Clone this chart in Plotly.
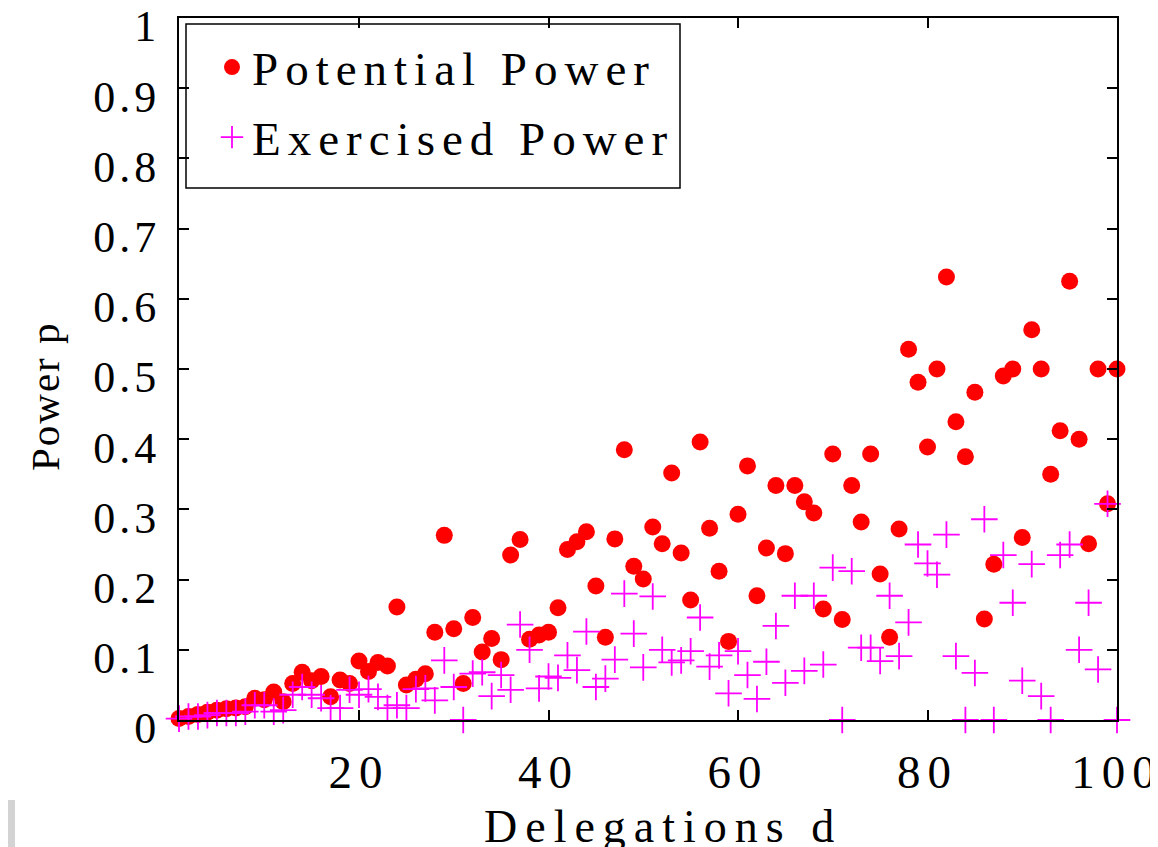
import plotly.graph_objects as go

delegations = list(range(1, 101))

potential_power = [
    0.002, 0.005, 0.008, 0.011, 0.014, 0.016, 0.017, 0.019, 0.031, 0.029,
    0.040, 0.026, 0.052, 0.068, 0.056, 0.062, 0.033, 0.057, 0.052, 0.084,
    0.069, 0.082, 0.077, 0.161, 0.050, 0.058, 0.066, 0.125, 0.263, 0.130,
    0.052, 0.146, 0.097, 0.116, 0.086, 0.235, 0.257, 0.115, 0.121, 0.125,
    0.160, 0.243, 0.254, 0.268, 0.191, 0.118, 0.258, 0.385, 0.219, 0.201,
    0.275, 0.251, 0.352, 0.238, 0.171, 0.396, 0.273, 0.212, 0.112, 0.293,
    0.362, 0.177, 0.245, 0.334, 0.237, 0.334, 0.311, 0.295, 0.158, 0.379,
    0.143, 0.334, 0.282, 0.379, 0.208, 0.118, 0.272, 0.528, 0.481, 0.389,
    0.500, 0.631, 0.425, 0.375, 0.467, 0.144, 0.222, 0.490, 0.500, 0.260,
    0.556, 0.500, 0.350, 0.412, 0.625, 0.400, 0.251, 0.500, 0.308, 0.500,
]

exercised_power = [
    0.002, 0.005, 0.005, 0.007, 0.010, 0.010, 0.010, 0.012, 0.021, 0.021,
    0.012, 0.014, 0.036, 0.047, 0.036, 0.031, 0.017, 0.017, 0.043, 0.036,
    0.044, 0.033, 0.017, 0.021, 0.017, 0.044, 0.045, 0.028, 0.085, 0.047,
    0.000, 0.066, 0.068, 0.034, 0.064, 0.043, 0.136, 0.100, 0.045, 0.062,
    0.060, 0.092, 0.071, 0.126, 0.047, 0.059, 0.086, 0.180, 0.123, 0.075,
    0.176, 0.100, 0.082, 0.085, 0.098, 0.146, 0.076, 0.092, 0.038, 0.098,
    0.064, 0.030, 0.083, 0.134, 0.053, 0.177, 0.070, 0.177, 0.079, 0.217,
    0.000, 0.212, 0.103, 0.103, 0.084, 0.177, 0.091, 0.139, 0.250, 0.223,
    0.207, 0.264, 0.091, 0.000, 0.067, 0.286, 0.000, 0.235, 0.167, 0.056,
    0.222, 0.034, 0.000, 0.235, 0.250, 0.100, 0.167, 0.072, 0.308, 0.000,
]

x_ticks = [20, 40, 60, 80, 100]
x_tick_labels = ["20", "40", "60", "80", "100"]
y_ticks = [0, 0.1, 0.2, 0.3, 0.4, 0.5, 0.6, 0.7, 0.8, 0.9, 1]
y_tick_labels = ["0", "0.1", "0.2", "0.3", "0.4", "0.5", "0.6", "0.7", "0.8", "0.9", "1"]

series_names = ["Potential Power", "Exercised Power"]
x_title = "Delegations d"
y_title = "Power p"

FONT = "Liberation Serif, Times New Roman, serif"


def spaced(text, px):
    return '<span style="letter-spacing:%dpx">%s</span>' % (px, text)


fig = go.Figure()
fig.add_trace(go.Scatter(
    x=delegations, y=potential_power, mode="markers",
    name=spaced(series_names[0], 7),
    legendgroup="a",
    marker=dict(symbol="circle", size=17, color="#ff0000", line=dict(width=0)),
    cliponaxis=False,
))
fig.add_trace(go.Scatter(
    x=delegations, y=exercised_power, mode="markers",
    name=spaced(series_names[1], 7),
    legendgroup="b",
    marker=dict(symbol="cross-thin", size=19, color="#ff00ff",
                line=dict(width=1.8, color="#ff00ff")),
    cliponaxis=False,
))

# page body has an 8px margin: work in figure pixel coordinates
OFF = 8
W, H = 1158 - OFF, 847 - OFF
L, T = 179 - OFF, 18 - OFF
R = W - (1117 - OFF)
B = H - (720 - OFF)
pw = W - L - R
ph = H - T - B


def px_x(p):
    return (p - OFF - L) / pw


def px_y(p):
    return (H - B - (p - OFF)) / ph


fig.update_layout(
    width=W, height=H,
    margin=dict(l=L, r=R, t=T, b=B, pad=0, autoexpand=False),
    paper_bgcolor="white", plot_bgcolor="white",
    font=dict(family=FONT, color="black"),
    showlegend=True,
    legend=dict(
        x=px_x(212), y=px_y(30), xanchor="left", yanchor="top",
        bgcolor="rgba(0,0,0,0)", borderwidth=0,
        font=dict(family=FONT, size=47, color="black"),
        tracegroupgap=6,
    ),
    xaxis=dict(
        range=[1, 100], tickvals=x_ticks,
        ticktext=[spaced(t, 7) for t in x_tick_labels],
        showgrid=False, zeroline=False, automargin=False,
        showline=True, linecolor="black", linewidth=2, mirror="ticks",
        ticks="inside", ticklen=10, tickwidth=1.5, tickcolor="black",
        tickfont=dict(family=FONT, size=47, color="black"),
        ticklabelstandoff=10, ticklabeloverflow="allow",
    ),
    yaxis=dict(
        range=[0, 1], tickvals=y_ticks,
        ticktext=[spaced(t, 4) for t in y_tick_labels],
        showgrid=False, zeroline=False, automargin=False,
        showline=True, linecolor="black", linewidth=2, mirror="ticks",
        ticks="inside", ticklen=10, tickwidth=1.5, tickcolor="black",
        tickfont=dict(family=FONT, size=44, color="black"),
        ticklabelstandoff=8, ticklabeloverflow="allow", ticklabelshift=8,
    ),
    annotations=[
        dict(text=spaced(x_title, 8), xref="paper", yref="paper",
             x=px_x(663), y=px_y(826), xanchor="center", yanchor="middle",
             showarrow=False, font=dict(family=FONT, size=46, color="black")),
        dict(text=spaced(y_title, 2), xref="paper", yref="paper",
             x=px_x(45), y=px_y(396), xanchor="center", yanchor="middle",
             textangle=-90, showarrow=False,
             font=dict(family=FONT, size=41, color="black")),
    ],
    shapes=[
        dict(type="rect", xref="paper", yref="paper",
             x0=px_x(186), x1=px_x(680), y0=px_y(188), y1=px_y(24),
             line=dict(color="black", width=1.5), fillcolor="white", layer="below"),
        dict(type="rect", xref="paper", yref="paper",
             x0=px_x(0), x1=px_x(15), y0=px_y(847), y1=px_y(800),
             line=dict(width=0), fillcolor="#d3d3d3", layer="above"),
    ],
)

fig.write_html("out.html")
